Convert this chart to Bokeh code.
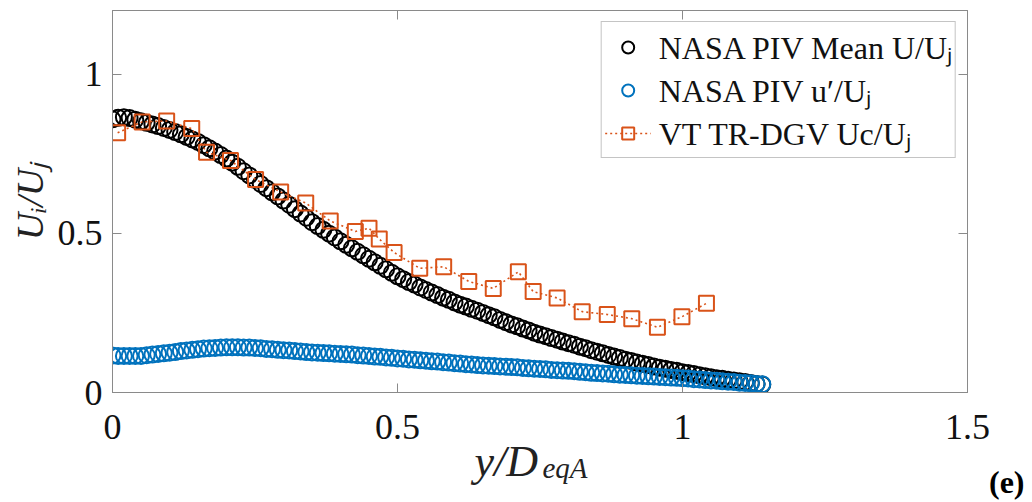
from bokeh.plotting import figure
from bokeh.models import Range1d, LinearAxis, Title, FixedTicker, Legend
from bokeh.embed import file_html
from bokeh.resources import INLINE

# ---------------- data ----------------
x_piv = [0.00, 0.01, 0.02, 0.03, 0.04, 0.05, 0.06, 0.07, 0.08, 0.09,
         0.10, 0.11, 0.12, 0.13, 0.14, 0.15, 0.16, 0.17, 0.18, 0.19,
         0.20, 0.21, 0.22, 0.23, 0.24, 0.25, 0.26, 0.27, 0.28, 0.29,
         0.30, 0.31, 0.32, 0.33, 0.34, 0.35, 0.36, 0.37, 0.38, 0.39,
         0.40, 0.41, 0.42, 0.43, 0.44, 0.45, 0.46, 0.47, 0.48, 0.49,
         0.50, 0.51, 0.52, 0.53, 0.54, 0.55, 0.56, 0.57, 0.58, 0.59,
         0.60, 0.61, 0.62, 0.63, 0.64, 0.65, 0.66, 0.67, 0.68, 0.69,
         0.70, 0.71, 0.72, 0.73, 0.74, 0.75, 0.76, 0.77, 0.78, 0.79,
         0.80, 0.81, 0.82, 0.83, 0.84, 0.85, 0.86, 0.87, 0.88, 0.89,
         0.90, 0.91, 0.92, 0.93, 0.94, 0.95, 0.96, 0.97, 0.98, 0.99,
         1.00, 1.01, 1.02, 1.03, 1.04, 1.05, 1.06, 1.07, 1.08, 1.09,
         1.10, 1.11, 1.12, 1.13, 1.14]

mean_u = [0.858, 0.863, 0.865, 0.862, 0.857, 0.852, 0.847, 0.842, 0.837, 0.831,
          0.825, 0.818, 0.811, 0.803, 0.795, 0.787, 0.777, 0.767, 0.757, 0.746,
          0.735, 0.722, 0.709, 0.695, 0.682, 0.668, 0.655, 0.642, 0.629, 0.616,
          0.603, 0.590, 0.576, 0.562, 0.549, 0.535, 0.523, 0.511, 0.499, 0.487,
          0.475, 0.464, 0.453, 0.442, 0.431, 0.420, 0.409, 0.398, 0.387, 0.376,
          0.365, 0.356, 0.347, 0.339, 0.330, 0.322, 0.314, 0.306, 0.298, 0.291,
          0.283, 0.276, 0.270, 0.263, 0.257, 0.250, 0.243, 0.236, 0.228, 0.221,
          0.214, 0.208, 0.201, 0.195, 0.188, 0.182, 0.177, 0.171, 0.166, 0.160,
          0.155, 0.150, 0.144, 0.139, 0.133, 0.128, 0.123, 0.118, 0.113, 0.108,
          0.103, 0.099, 0.094, 0.090, 0.086, 0.082, 0.078, 0.075, 0.071, 0.068,
          0.064, 0.061, 0.058, 0.054, 0.051, 0.048, 0.045, 0.043, 0.040, 0.038,
          0.035, 0.033, 0.030, 0.027, 0.025]

u_prime = [0.116, 0.115, 0.115, 0.115, 0.115, 0.115, 0.117, 0.119, 0.121, 0.123,
           0.125, 0.127, 0.130, 0.132, 0.134, 0.136, 0.138, 0.139, 0.140, 0.141,
           0.142, 0.142, 0.142, 0.141, 0.141, 0.140, 0.139, 0.137, 0.136, 0.134,
           0.133, 0.132, 0.130, 0.129, 0.127, 0.126, 0.125, 0.124, 0.123, 0.122,
           0.121, 0.120, 0.119, 0.117, 0.116, 0.115, 0.113, 0.112, 0.110, 0.109,
           0.107, 0.106, 0.104, 0.103, 0.101, 0.100, 0.098, 0.097, 0.095, 0.094,
           0.092, 0.091, 0.089, 0.088, 0.086, 0.085, 0.084, 0.083, 0.082, 0.081,
           0.080, 0.079, 0.077, 0.076, 0.075, 0.074, 0.073, 0.071, 0.070, 0.069,
           0.068, 0.067, 0.065, 0.064, 0.062, 0.061, 0.060, 0.059, 0.057, 0.056,
           0.055, 0.054, 0.053, 0.052, 0.051, 0.050, 0.049, 0.048, 0.047, 0.046,
           0.045, 0.044, 0.042, 0.041, 0.039, 0.038, 0.037, 0.035, 0.034, 0.033,
           0.031, 0.030, 0.029, 0.027, 0.026]

x_vt = [0.009, 0.052, 0.095, 0.139, 0.165, 0.207, 0.251, 0.295, 0.339, 0.382,
        0.426, 0.450, 0.468, 0.494, 0.539, 0.581, 0.625, 0.668, 0.712, 0.738,
        0.780, 0.824, 0.868, 0.911, 0.956, 0.999, 1.042]
uc_vt = [0.816, 0.850, 0.853, 0.829, 0.755, 0.729, 0.669, 0.630, 0.595, 0.539,
         0.506, 0.516, 0.482, 0.440, 0.390, 0.395, 0.349, 0.327, 0.379, 0.317,
         0.297, 0.254, 0.245, 0.232, 0.205, 0.238, 0.280]

x_ticks = [0, 0.5, 1, 1.5]
x_tick_labels = ["0", "0.5", "1", "1.5"]
y_ticks = [0, 0.5, 1]
y_tick_labels = ["0", "0.5", "1"]

legend_labels = ["NASA PIV Mean U/Uⱼ", "NASA PIV u′/Uⱼ", "VT TR-DGV Uc/Uⱼ"]

# ---------------- styling ----------------
SERIF = "Liberation Serif"
AX_GRAY = "#8a8a8a"
C_BLACK = "#000000"
C_BLUE = "#0072BD"
C_ORANGE = "#D95319"

W, H = 1024, 500
p = figure(width=W, height=H, output_backend="svg", toolbar_location=None,
           x_range=Range1d(0, 1.5), y_range=Range1d(0, 1.2),
           min_border_left=112, min_border_right=57, min_border_top=10,
           min_border_bottom=108, background_fill_color="white",
           border_fill_color="white")
p.xgrid.visible = False
p.ygrid.visible = False
p.outline_line_color = AX_GRAY
p.outline_line_width = 1

r_mean = p.scatter(x_piv, mean_u, marker="circle", size=16, fill_color=None,
                   line_color=C_BLACK, line_width=2)
r_up = p.scatter(x_piv, u_prime, marker="circle", size=16, fill_color=None,
                 line_color=C_BLUE, line_width=2)
r_vt_line = p.line(x_vt, uc_vt, line_color=C_ORANGE, line_width=1.6, line_dash="2 3")
r_vt_sq = p.scatter(x_vt, uc_vt, marker="square", size=15, fill_color=None,
                    line_color=C_ORANGE, line_width=2)


def style_axis(ax, ticks, labels, show_labels=True):
    ax.ticker = FixedTicker(ticks=ticks)
    ax.axis_line_color = AX_GRAY
    ax.major_tick_line_color = AX_GRAY
    ax.major_tick_in = 9
    ax.major_tick_out = 0
    ax.minor_tick_line_color = None
    ax.major_label_text_font = SERIF
    ax.major_label_text_color = "#111111"
    if show_labels:
        ax.major_label_overrides = {t: l for t, l in zip(ticks, labels)}
        ax.major_label_text_font_size = "36px"
    else:
        ax.major_label_text_color = None
        ax.major_label_text_font_size = "1px"
        ax.major_label_standoff = 0


xa = p.xaxis[0]
ya = p.yaxis[0]
style_axis(xa, x_ticks, x_tick_labels)
style_axis(ya, y_ticks, y_tick_labels)
xa.major_label_standoff = 22
ya.major_label_standoff = 10

ya.axis_label = "Uᵢ/Uⱼ"
ya.axis_label_text_font = SERIF
ya.axis_label_text_font_style = "italic"
ya.axis_label_text_font_size = "38px"
ya.axis_label_text_color = "#222222"
ya.axis_label_standoff = 4

ax_r = LinearAxis()
style_axis(ax_r, y_ticks, y_tick_labels, show_labels=False)
p.add_layout(ax_r, "right")
ax_t = LinearAxis()
style_axis(ax_t, x_ticks, x_tick_labels, show_labels=False)
p.add_layout(ax_t, "above")

# x axis label y/D_eqA and the panel tag, as titles in the bottom panel
t_main = Title(text="y/D", align="left", offset=362, vertical_align="top",
               standoff=-10, text_font=SERIF, text_font_style="italic",
               text_font_size="44px", text_color="#222222")
t_sub = Title(text="eqA", align="left", offset=430, vertical_align="top",
              standoff=-62, text_font=SERIF, text_font_style="italic",
              text_font_size="29px", text_color="#222222")
t_tag = Title(text="(e)", align="right", offset=-57, vertical_align="top",
              standoff=-38, text_font=SERIF, text_font_style="bold",
              text_font_size="32px", text_color="black")
p.add_layout(t_main, "below")
p.add_layout(t_sub, "below")
p.add_layout(t_tag, "below")

legend = Legend(items=[(legend_labels[0], [r_mean]),
                       (legend_labels[1], [r_up]),
                       (legend_labels[2], [r_vt_line, r_vt_sq])],
                location="top_right")
legend.label_text_font = SERIF
legend.label_text_font_size = "32px"
legend.label_text_color = "#111111"
legend.label_height = 38
legend.glyph_height = 30
legend.glyph_width = 46
legend.spacing = 0
legend.padding = 3
legend.margin = 11
legend.label_standoff = 8
legend.border_line_color = AX_GRAY
legend.border_line_width = 1
legend.background_fill_color = "white"
legend.background_fill_alpha = 1
p.add_layout(legend)

open("out.html", "w").write(file_html(p, INLINE))
